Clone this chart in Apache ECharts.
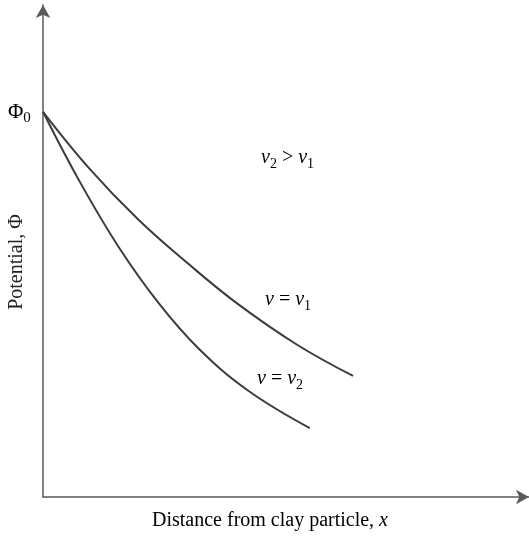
<!DOCTYPE html>
<html>
<head>
<meta charset="utf-8">
<script src="https://cdn.jsdelivr.net/npm/echarts@6/dist/echarts.min.js"></script>
<style>html,body{margin:0;padding:0;background:#fff;}#c{width:529px;height:536px;}</style>
</head>
<body>
<div id="c"></div>
<script>
// Distance x (arbitrary units) and potential Φ (arbitrary units)
const nu1X = [0, 9.6, 19.7, 29.9, 40.0, 52.2, 63.8];
const nu1Phi = [78.3, 66.7, 56.3, 47.4, 39.3, 31.0, 24.6];
const nu2X = [0, 7.5, 15.7, 23.8, 31.9, 42.1, 54.9];
const nu2Phi = [78.3, 64.2, 50.6, 39.4, 30.3, 21.7, 14.0];
const xAxisName = 'Distance from clay particle, ';
const yAxisName = 'Potential, Φ';

const chart = echarts.init(document.getElementById('c'), null, {renderer: 'canvas'});
const serif = '"Liberation Serif", "DejaVu Serif", serif';
const lineColor = '#3c3c3c';
const axisColor = '#5a5a5a';
const zip = (xs, ys) => xs.map((x, i) => [x, ys[i]]);
const mk = (fs) => ({
  n: {fontFamily: serif, fontSize: fs, lineHeight: fs + 6, color: '#222'},
  i: {fontFamily: serif, fontSize: fs, fontStyle: 'italic', lineHeight: fs + 6, color: '#222'},
  s: {fontFamily: serif, fontSize: Math.round(fs * 0.7), verticalAlign: 'bottom', lineHeight: fs + 6, padding: [Math.round(fs * 0.45), 0, 0, 0], color: '#222'}
});

chart.setOption({
  animation: false,
  backgroundColor: '#fff',
  grid: {left: 43, right: -8, top: 5, bottom: 39},
  xAxis: {
    type: 'value', min: 0, max: 100,
    axisLine: {show: true, onZero: false, symbol: ['none', 'arrow'], symbolSize: [11, 13], lineStyle: {color: axisColor, width: 1.5}},
    axisTick: {show: false}, axisLabel: {show: false}, splitLine: {show: false}
  },
  yAxis: {
    type: 'value', min: 0, max: 100,
    axisLine: {show: true, onZero: false, symbol: ['none', 'arrow'], symbolSize: [11, 13], lineStyle: {color: axisColor, width: 1.5}},
    axisTick: {show: false}, axisLabel: {show: false}, splitLine: {show: false}
  },
  series: [
    {type: 'line', data: zip(nu1X, nu1Phi), smooth: 0.4, symbol: 'none', lineStyle: {color: lineColor, width: 2}},
    {type: 'line', data: zip(nu2X, nu2Phi), smooth: 0.4, symbol: 'none', lineStyle: {color: lineColor, width: 2}}
  ],
  graphic: [
    {type: 'text', x: 152, y: 521, style: {text: '{n|' + xAxisName + '}{i|x}', rich: mk(20), verticalAlign: 'middle'}},
    {type: 'text', x: 17, y: 262, rotation: Math.PI / 2, style: {text: yAxisName, font: '20px ' + serif, fill: '#222', align: 'center', verticalAlign: 'middle'}},
    {type: 'text', x: 8, y: 112, style: {text: '{n|Φ}{s|0}', rich: mk(21), verticalAlign: 'middle'}},
    {type: 'text', x: 261, y: 158, style: {text: '{i|ν}{s|2}{n| > }{i|ν}{s|1}', rich: mk(20), verticalAlign: 'middle'}},
    {type: 'text', x: 265, y: 300, style: {text: '{i|ν}{n| = }{i|ν}{s|1}', rich: mk(20), verticalAlign: 'middle'}},
    {type: 'text', x: 257, y: 379, style: {text: '{i|ν}{n| = }{i|ν}{s|2}', rich: mk(20), verticalAlign: 'middle'}}
  ]
});
</script>
</body>
</html>
